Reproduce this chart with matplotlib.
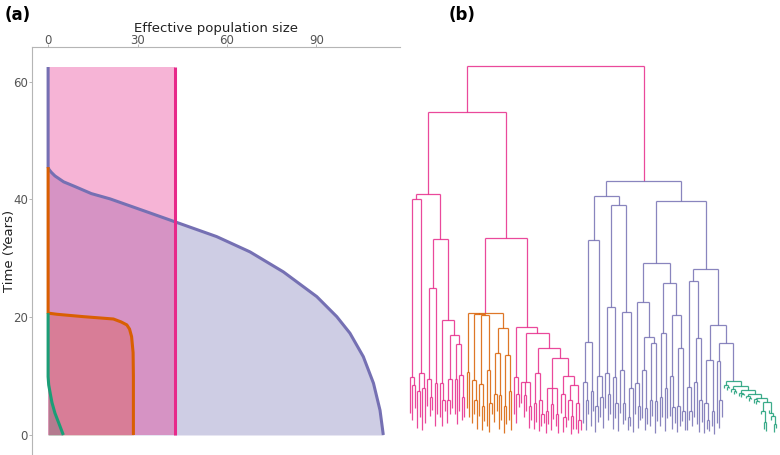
import matplotlib.pyplot as plt
from matplotlib.collections import LineCollection

# ---- panel (a): effective population size through time ----
pink_size = 42.6
pink_top = 62.5

purple_time = [0, 4.2, 8.8, 13.3, 17.3, 20.1, 23.5, 27.7, 31.1, 33.7, 36.2, 38.1, 40.1, 41.0, 42.2, 43.0, 44.0, 44.6, 45.1, 45.5, 62.5]
purple_size = [112.4, 111.3, 109.1, 105.7, 101.2, 96.8, 90.1, 78.9, 67.7, 56.5, 42.6, 32.0, 20.8, 14.5, 9.0, 5.2, 2.3, 1.1, 0.3, 0, 0]

orange_time = [0, 10, 14, 16.7, 18.0, 18.7, 19.2, 19.7, 20.1, 20.5, 20.7, 45.5]
orange_size = [28.6, 28.6, 28.5, 28.0, 27.3, 26.4, 24.5, 21.9, 11.8, 3.0, 0, 0]

green_time = [0, 2.0, 3.7, 5.5, 7.1, 8.5, 9.9, 20.7]
green_size = [5.1, 3.6, 2.3, 1.3, 0.7, 0.2, 0, 0]

x_ticks = [0, 30, 60, 90]
y_ticks = [0, 20, 40, 60]

# ---- panel (b): dated tree, node label = height in years, tag letter starts a coloured clade ----
pink_left = ("(((3.8,(2.5,4.5)8.5)9.9,((1.2,3.0)7.5,(0.8,2.0)8.0)10.6)40.0,"
             "(((5.0,(3.2,4.2)6.5)9.5,(1.5,3.5)8.8)25.0,((3.0,(1.5,4.0)6.0)8.8,"
             "(((2.0,3.5)6.0,4.5)9.5,((3.5,1.8)9.5,(4.0,(2.5,3.0)6.5)10.2)15.5)17.0)19.5)33.3)41.0")
orange_clade = ("((4.5,3.0)10.7,((2.0,(3.5,1.0)6.0)9.3,((3.2,(0.8,2.4)5.0)8.6,"
                "(1.5,(0.5,3.6)5.5)11.0)20.3)20.5,(((2.2,4.0)7.0,(1.0,2.6)6.8)14.0,"
                "((0.4,1.8)5.0,(2.5,0.9)7.5)13.6)18.2)20.7o")
pink_right = ("((3.5,(2.0,4.8)7.0)9.9,((5.5,(3.0,4.0)6.8,(1.2,2.6)5.0)9.0,(((1.0,2.2)5.5,"
              "(0.6,(1.5,2.0)3.5)6.0)10.5,(((0.3,1.9)4.0,(0.8,2.7)5.2,(1.6,0.4)3.6)8.0,"
              "((3.8,(0.5,1.4)3.0)7.0,((2.5,(0.2,1.1)3.3)6.0,(1.0,(0.3,0.9)2.5)5.5)8.5)10.0)13.0)14.8)17.3)18.4")
green_clade = ("((7.9,(7.6,8.0)8.2)8.5,((7.3,(6.9,7.2)7.4)7.8,((6.7,(6.4,6.8)6.9)7.2,"
               "((6.2,(5.8,6.1)6.3)6.6,((5.5,(5.2,5.6)5.7)6.1,((3.5,(1.0,0.7)2.2)4.0,"
               "(4.2,(2.6,(0.5,1.2)1.8)3.2)3.8)5.6)6.3)7.0)7.7)8.4)9.2g")
purple_p1a = "(((2.0,(0.8,3.5)6.0)9.0,(1.5,4.0)7.5)15.8,((0.5,2.2)5.0,(3.0,1.2)6.5)10.0)33.1"
purple_p1b1 = "((4.5,(2.5,3.5)7.0)10.5,(1.0,(2.8,0.6)5.5)9.8)21.7"
purple_p1b2 = "((3.8,(1.8,2.6)5.5)11.0,((0.9,1.5)3.0,0.5)8.0)20.9"
purple_p2a1 = "((3.5,(1.2,2.6)5.0)8.8,((2.8,(0.8,1.9)4.5)11.0,((1.5,3.2)6.0,(0.4,2.4)5.8)15.6)16.7)22.6"
purple_p2a2 = ("(((1.5,3.0)6.5,(0.6,2.8)8.0)17.3,((3.2,(1.0,2.1)4.8)10.0,"
               "((0.5,1.6)5.0,(2.4,0.9)4.0)14.8)20.4)25.8")
purple_p2b1 = "((0.8,(2.5,1.5)4.0)8.2,((3.0,1.8)9.0,(0.5,2.2)6.0)16.5)26.2"
purple_p2b2 = "(((0.3,(1.0,0.6)2.5)5.5,(1.5,0.2)4.0)12.7,((2.0,(1.2,3.0)6.0)12.5,GREEN)15.6)18.7"

clade_colors = {'p': '#e7298a', 'o': '#d95f02', 'v': '#7570b3', 'g': '#1b9e77'}

purple_clade = ("((" + purple_p1a + ",(" + purple_p1b1 + "," + purple_p1b2 + ")39.0)40.6,((" +
                purple_p2a1 + "," + purple_p2a2 + ")29.2,(" + purple_p2b1 + "," +
                purple_p2b2.replace("GREEN", green_clade) + ")28.2)39.8)43.2v")
tree_str = "((" + pink_left + ",(" + orange_clade + "," + pink_right + ")33.5)54.9," + purple_clade + ")62.7p"


def parse(s):
    pos = 0

    def node():
        nonlocal pos
        kids = []
        if s[pos] == '(':
            pos += 1
            kids.append(node())
            while s[pos] == ',':
                pos += 1
                kids.append(node())
            pos += 1
        start = pos
        while pos < len(s) and s[pos] not in ',()':
            pos += 1
        label = s[start:pos]
        tag = label[-1] if label[-1].isalpha() else None
        return {'h': float(label.rstrip('povg')), 'tag': tag, 'kids': kids}

    return node()


tree = parse(tree_str)
leaf_count = [0]


def place(n, color):
    if n['tag']:
        color = clade_colors[n['tag']]
    n['c'] = color
    if not n['kids']:
        n['x'] = leaf_count[0]
        leaf_count[0] += 1
        return
    for k in n['kids']:
        place(k, color)
    n['x'] = (n['kids'][0]['x'] + n['kids'][-1]['x']) / 2


place(tree, clade_colors['p'])

segs, cols = [], []


def collect(n):
    if not n['kids']:
        return
    segs.append([(n['kids'][0]['x'], n['h']), (n['kids'][-1]['x'], n['h'])])
    cols.append(n['c'])
    for k in n['kids']:
        segs.append([(k['x'], n['h']), (k['x'], k['h'])])
        cols.append(n['c'])
        collect(k)


collect(tree)

fig = plt.figure(figsize=(7.8, 4.55), dpi=100)
top = 1 - 47 / 455

ax = fig.add_axes([32 / 780, 0, 368 / 780, top])
ax.fill_betweenx(purple_time, 0, purple_size, color='#7570b3', alpha=0.35, lw=0)
ax.fill_betweenx(orange_time, 0, orange_size, color='#d95f02', alpha=0.3, lw=0)
ax.fill_betweenx(green_time, 0, green_size, color='#1b9e77', alpha=0.3, lw=0)
ax.fill_betweenx([0, pink_top], 0, pink_size, color='#e7298a', alpha=0.35, lw=0)
ax.plot(purple_size, purple_time, color='#7570b3', lw=2.2, solid_capstyle='butt')
ax.plot(orange_size, orange_time, color='#d95f02', lw=2.2, solid_capstyle='butt')
ax.plot(green_size, green_time, color='#1b9e77', lw=2.2, solid_capstyle='butt')
ax.plot([pink_size, pink_size], [0, pink_top], color='#e7298a', lw=2.2, solid_capstyle='butt')

ax.set_xlim(-5.4, 118)
ax.set_ylim(-3.4, 65.9)
ax.xaxis.tick_top()
ax.xaxis.set_label_position('top')
ax.set_xticks(x_ticks)
ax.set_yticks(y_ticks)
for side in ['right', 'bottom']:
    ax.spines[side].set_visible(False)
for side in ['left', 'top']:
    ax.spines[side].set_color('#b5b5b5')
    ax.spines[side].set_linewidth(0.8)
ax.tick_params(length=2, width=0.7, color='#b5b5b5', labelcolor='#555555', labelsize=8.5)
ax.tick_params(axis='x', pad=-2)
ax.tick_params(axis='y', pad=1)
ax.set_xlabel('Effective population size', fontsize=9.5, color='#222222', labelpad=1.5)
ax.set_ylabel('Time (Years)', fontsize=9.5, color='#222222')
ax.yaxis.set_label_coords(-0.043, 0.5)

axb = fig.add_axes([400 / 780, 0, 380 / 780, top])
axb.add_collection(LineCollection(segs, colors=cols, linewidths=0.9, alpha=0.85))
n = leaf_count[0]
k = (n - 1) / (776 - 410)
axb.set_xlim(-10 * k, (n - 1) + 4 * k)
axb.set_ylim(-3.4, 65.9)
axb.axis('off')

fig.text(5 / 780, 1 - 15 / 455, '(a)', fontsize=12, fontweight='bold', va='center')
fig.text(449 / 780, 1 - 15 / 455, '(b)', fontsize=12, fontweight='bold', va='center')

fig.savefig('out.png', dpi=100)
